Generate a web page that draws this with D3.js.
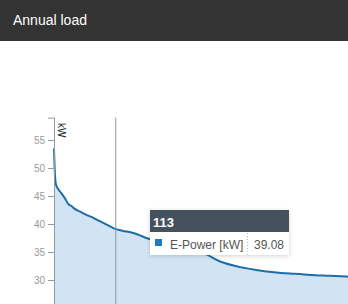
<!DOCTYPE html>
<html>
<head>
<meta charset="utf-8">
<script src="https://cdn.jsdelivr.net/npm/d3@7"></script>
<style>
  body { margin: 0; background: #fff; font-family: "Liberation Sans", Arial, sans-serif; overflow: hidden; }
  .header { height: 41px; background: #333333; color: #fff; font-size: 14px; line-height: 41px; padding-left: 13px; }
  svg { position: absolute; left: 0; top: 0; }
</style>
</head>
<body>
<div class="header">Annual load</div>
<script>
// sorted load curve (hour rank -> kW)
const hours = [0, 1, 2, 3, 5, 8, 11, 15, 20, 26, 32, 38, 48, 60, 72, 84, 98, 113, 125, 145, 172, 200, 230, 250, 273, 304, 341, 370, 402, 440, 470, 505, 538];
const kW = [53.5, 50.5, 48.4, 47.4, 46.7, 46.2, 45.8, 45.3, 44.6, 43.6, 43.2, 42.7, 42.2, 41.6, 41.1, 40.5, 39.8, 39.08, 38.8, 38.4, 37.4, 36.5, 35.6, 35.2, 34.8, 33.3, 32.3, 31.8, 31.4, 31.1, 30.9, 30.75, 30.6];
const yTicks = [30, 35, 40, 45, 50, 55];
const seriesName = "E-Power [kW]";
const hoverHour = 113;
const hoverValue = "39.08";

const w = 348, h = 304;
const data = hours.map((d, i) => ({ x: d, y: kW[i] }));

const x = d3.scaleLinear().domain([0, 538]).range([54, 348]);
const y = d3.scaleLinear().domain([25, 59]).range([308, 117.6]);

const svg = d3.select("body").append("svg")
  .attr("width", w)
  .attr("height", h);

const defs = svg.append("defs");
const f = defs.append("filter").attr("id", "shadow")
  .attr("x", "-20%").attr("y", "-20%").attr("width", "140%").attr("height", "150%");
f.append("feDropShadow").attr("dx", 0).attr("dy", 1).attr("stdDeviation", 2)
  .attr("flood-color", "#000").attr("flood-opacity", 0.18);

// area + line
svg.append("path")
  .datum(data)
  .attr("fill", "#d2e4f3")
  .attr("d", d3.area().x(d => x(d.x)).y0(y(20)).y1(d => y(d.y)).curve(d3.curveMonotoneX));

svg.append("path")
  .datum(data)
  .attr("fill", "none")
  .attr("stroke", "#1c6ea8")
  .attr("stroke-width", 2)
  .attr("d", d3.line().x(d => x(d.x)).y(d => y(d.y)).curve(d3.curveMonotoneX));

// y axis
const yAxis = svg.append("g")
  .attr("transform", "translate(54,0)")
  .call(d3.axisLeft(y).tickValues(yTicks).tickSize(6).tickPadding(3));
yAxis.select(".domain").attr("stroke", "#8e9aa4");
yAxis.selectAll(".tick line").attr("stroke", "#8e9aa4");
yAxis.selectAll(".tick text")
  .attr("fill", "#9a9a9a")
  .style("font-family", "Liberation Sans, Arial, sans-serif")
  .style("font-size", "10px");

svg.append("text")
  .attr("transform", "translate(57.5,123) rotate(90)")
  .attr("font-size", 10)
  .attr("fill", "#222")
  .text("kW");

// crosshair
svg.append("line")
  .attr("x1", x(hoverHour)).attr("x2", x(hoverHour))
  .attr("y1", 117.6).attr("y2", h)
  .attr("stroke", "#8e9aa4").attr("stroke-width", 1);

// tooltip
const tip = svg.append("g").attr("transform", "translate(150,210)");
tip.append("rect").attr("width", 139).attr("height", 45)
  .attr("fill", "#fff").attr("filter", "url(#shadow)");
tip.append("rect").attr("width", 139).attr("height", 22).attr("fill", "#45525d");
tip.append("text").attr("x", 3).attr("y", 16.5)
  .attr("fill", "#fff").attr("font-size", 13).attr("font-weight", "bold")
  .text(hoverHour);
tip.append("rect").attr("x", 5).attr("y", 29).attr("width", 7).attr("height", 7)
  .attr("fill", "#1f7bbf");
tip.append("text").attr("x", 20).attr("y", 38.5)
  .attr("fill", "#555").attr("font-size", 12)
  .text(seriesName);
tip.append("line").attr("x1", 97.5).attr("x2", 97.5).attr("y1", 23).attr("y2", 45)
  .attr("stroke", "#bbb").attr("stroke-dasharray", "1,2");
tip.append("text").attr("x", 104).attr("y", 38.5)
  .attr("fill", "#555").attr("font-size", 12)
  .text(hoverValue);
</script>
</body>
</html>
